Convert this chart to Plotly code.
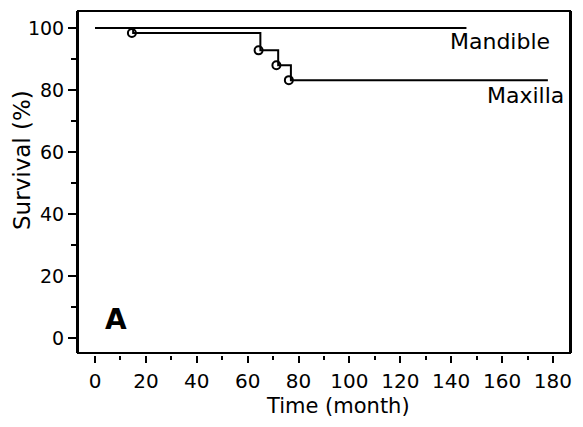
import plotly.graph_objects as go

# Data
mandible_time = [0, 146]
mandible_surv = [100, 100]
maxilla_time = [0, 15, 65, 72, 77, 178]
maxilla_surv = [100, 98.4, 92.8, 88.0, 83.2, 83.2]
maxilla_mark_time = [14.5, 64.3, 71.3, 76.2]
maxilla_mark_surv = [98.4, 92.8, 88.0, 83.2]
x_ticks = [0, 20, 40, 60, 80, 100, 120, 140, 160, 180]
y_ticks = [0, 20, 40, 60, 80, 100]

FONT = "DejaVu Sans, Liberation Sans, Arial, sans-serif"

fig = go.Figure()
fig.add_trace(go.Scatter(x=mandible_time, y=mandible_surv, mode="lines",
                         line=dict(color="black", width=2, shape="hv"),
                         showlegend=False, hoverinfo="skip"))
fig.add_trace(go.Scatter(x=maxilla_time, y=maxilla_surv, mode="lines",
                         line=dict(color="black", width=2, shape="hv"),
                         showlegend=False, hoverinfo="skip"))
fig.add_trace(go.Scatter(x=maxilla_mark_time, y=maxilla_mark_surv, mode="markers",
                         marker=dict(symbol="circle-open", size=8, color="black",
                                     line=dict(width=2, color="black")),
                         showlegend=False, hoverinfo="skip"))

# page body has an 8px margin, so the figure is drawn 8px in from the window edge
OFF = 8
W, H = 583 - 2 * OFF, 427 - 2 * OFF
top, bottom_px, box_bottom = 11 - OFF, 355 - OFF, 353 - OFF
left, right = 78 - OFF, 570 - OFF
plot_h = bottom_px - top
plot_w = right - left

ytitle_x = (22 - OFF - left) / plot_w
ytitle_y = (bottom_px - (160 - OFF)) / plot_h
xtitle_x = (338 - OFF - left) / plot_w
xtitle_y = (bottom_px - H) / plot_h   # bottom edge of the figure

fig.update_layout(
    template="none",
    width=W, height=H,
    margin=dict(l=left, r=W - right, t=top, b=H - bottom_px, pad=0),
    paper_bgcolor="white", plot_bgcolor="white",
    font=dict(family=FONT, size=20, color="black"),
    xaxis=dict(range=[-6.68, 186.7], tickvals=x_ticks, ticks="outside",
               ticklen=7, tickwidth=2, tickcolor="black",
               minor=dict(dtick=10, tick0=0, ticks="outside", ticklen=4,
                          tickwidth=2, tickcolor="black"),
               showline=False, showgrid=False, zeroline=False,
               anchor="free", position=0, automargin=False,
               ticklabelstandoff=1,
               tickfont=dict(size=20)),
    yaxis=dict(range=[-4.74, 105.48], tickvals=y_ticks, ticks="outside",
               ticklen=8, tickwidth=2, tickcolor="black",
               minor=dict(dtick=10, tick0=0, ticks="outside", ticklen=5,
                          tickwidth=2, tickcolor="black"),
               showline=True, linewidth=2, linecolor="black", mirror=True,
               showgrid=False, zeroline=False, automargin=False,
               domain=[(bottom_px - box_bottom) / plot_h, 1],
               tickfont=dict(size=19)),
    shapes=[dict(type="rect", xref="x domain", yref="y domain",
                 x0=0, x1=1, y0=0, y1=1, line=dict(color="black", width=2))],
    annotations=[
        dict(x=ytitle_x, y=ytitle_y, xref="paper", yref="paper", text="Survival (%)",
             textangle=-90, showarrow=False, xanchor="center", yanchor="middle",
             font=dict(size=23)),
        dict(x=xtitle_x, y=xtitle_y, xref="paper", yref="paper", text="Time (month)",
             showarrow=False, xanchor="center", yanchor="bottom", borderpad=0,
             font=dict(size=21)),
        dict(x=179.5, y=95.5, xref="x", yref="y", text="Mandible", showarrow=False,
             xanchor="right", yanchor="middle", font=dict(size=22)),
        dict(x=185, y=78.4, xref="x", yref="y", text="Maxilla", showarrow=False,
             xanchor="right", yanchor="middle", font=dict(size=22)),
        dict(x=8.3, y=6.2, xref="x", yref="y", text="<b>A</b>", showarrow=False,
             xanchor="center", yanchor="middle", font=dict(size=28)),
    ],
)

fig.write_html("out.html")
